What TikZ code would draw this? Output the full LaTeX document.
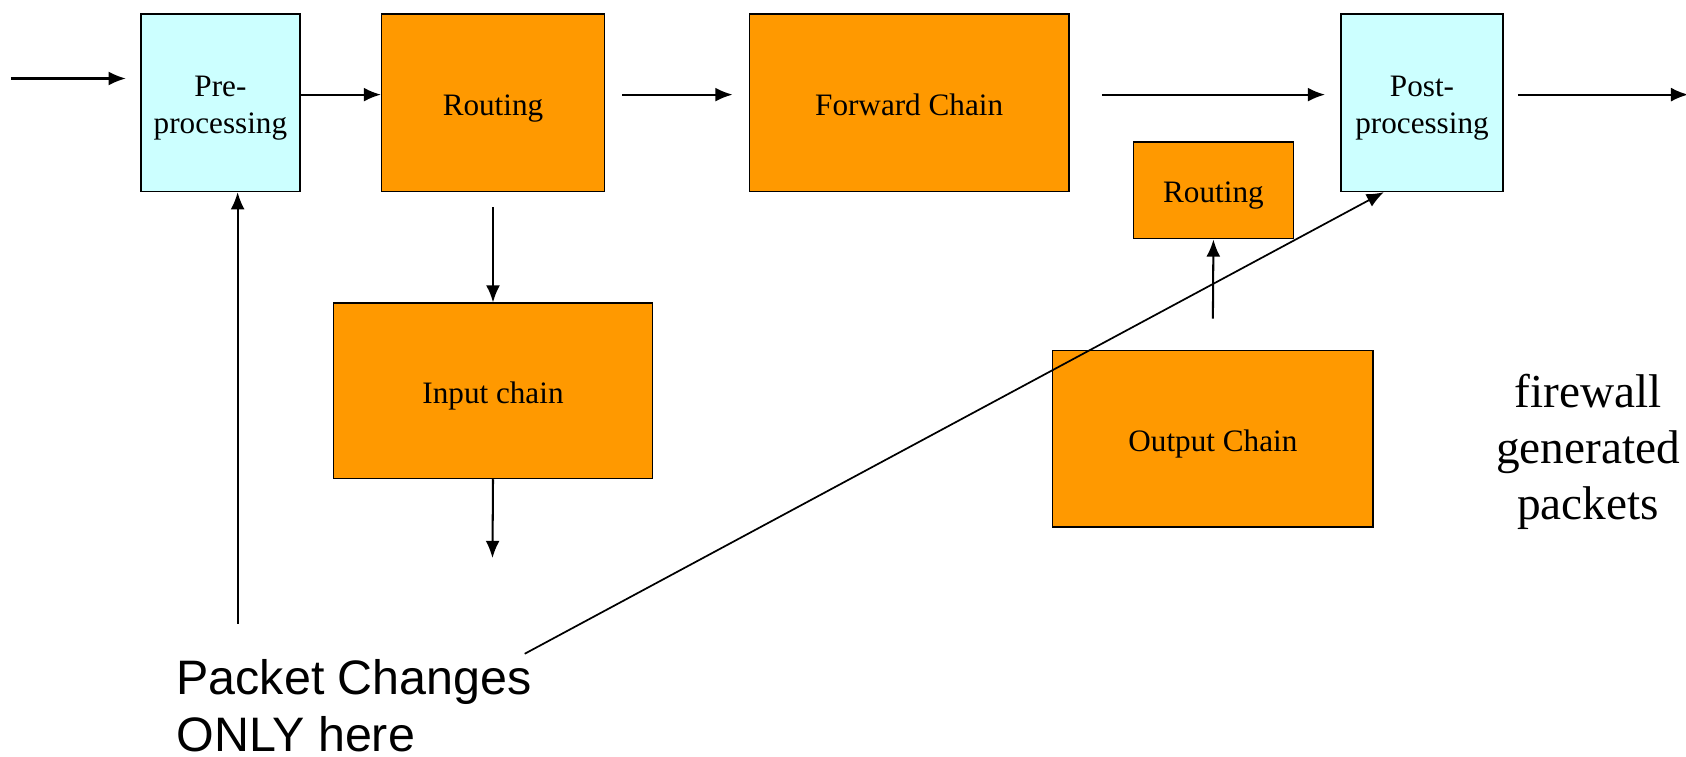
\documentclass[tikz,border=0pt]{standalone}
\usepackage{fontspec}
\setmainfont{Liberation Serif}
\newfontfamily\labelsans{Liberation Sans}
\usetikzlibrary{arrows.meta,calc}
\definecolor{chainorange}{HTML}{FF9900}
\definecolor{hookcyan}{HTML}{CCFFFF}
% box captions sit slightly below the box centre
\newcommand\boxtext[1]{\raisebox{-4.5pt}[\height][\depth]{\begin{tabular}{@{}c@{}}#1\end{tabular}}}

\begin{document}
\begin{tikzpicture}[x=1pt,y=-1pt,
  stage/.style={draw=black, line width=1.4pt, inner sep=0pt,
                font=\fontsize{29}{35}\selectfont},
  chain/.style={stage, fill=chainorange},
  hook/.style={stage, fill=hookcyan},
  flow/.style={line width=1.9pt, -{Latex[length=16pt,width=13pt]}},
  thinflow/.style={line width=1.6pt, -{Latex[length=16pt,width=13pt]}},
  note/.style={inner sep=0pt, font=\fontsize{44}{52}\selectfont}]
\useasboundingbox (0,0) rectangle (1568,704);
\fill[white] (0,0) rectangle (1568,704);

% main packet path
\node[hook,  minimum width=148pt, minimum height=165pt] (pre)  at (205,95.5)    {\boxtext{Pre-\\processing}};
\node[chain, minimum width=207pt, minimum height=165pt] (rout) at (458.5,95.5)  {\boxtext{Routing}};
\node[chain, minimum width=297pt, minimum height=165pt] (fwd)  at (845.5,95.5)  {\boxtext{Forward Chain}};
\node[hook,  minimum width=151pt, minimum height=165pt] (post) at (1322.5,95.5) {\boxtext{Post-\\processing}};

% local delivery and local generation
\node[chain, minimum width=297pt, minimum height=163pt] (inp)   at (458.5,363.5) {\boxtext{Input chain}};
\node[chain, minimum width=298pt, minimum height=164pt] (outc)  at (1128,408)    {\boxtext{Output Chain}};
\node[chain, minimum width=149pt, minimum height=90pt]  (rout2) at (1128.5,177)  {\boxtext{Routing}};

% free ends of connectors
\coordinate (row)   at (0,88);
\coordinate (inA)   at (10,73);
\coordinate (inB)   at (117,73);
\coordinate (outB)  at (1570,88);
\coordinate (drop)  at (458,519);
\coordinate (upA)   at (221,580);
\coordinate (diagA) at (488,608);

% connectors
\draw[flow] (inA) -- (inB);
\draw[flow] (pre.east |- row) -- (rout.west |- row);
\draw[flow] ([xshift=16pt]rout.east |- row) -- ([xshift=-15pt]fwd.west |- row);
\draw[flow] ([xshift=30pt]fwd.east |- row) -- ([xshift=-14pt]post.west |- row);
\draw[flow] ([xshift=13pt]post.east |- row) -- (outB);
\draw[flow] ([yshift=-14pt]rout.south) -- (inp.north);
\draw[flow] (inp.south) -- (drop);
\draw[flow] ([yshift=29pt]outc.north) -- (rout2.south);
\draw[flow] (upA) -- (upA |- pre.south);
\draw[thinflow] (diagA) -- ([xshift=-35.5pt]post.south);

% annotations
\node[note, font=\labelsans\fontsize{45}{53}\selectfont, align=left, anchor=north west]
  (changes) at (164,613) {Packet Changes\\ONLY here};
\node[note, align=center, anchor=north] (gen) at (1477,348) {firewall\\generated\\packets};
\end{tikzpicture}
\end{document}
